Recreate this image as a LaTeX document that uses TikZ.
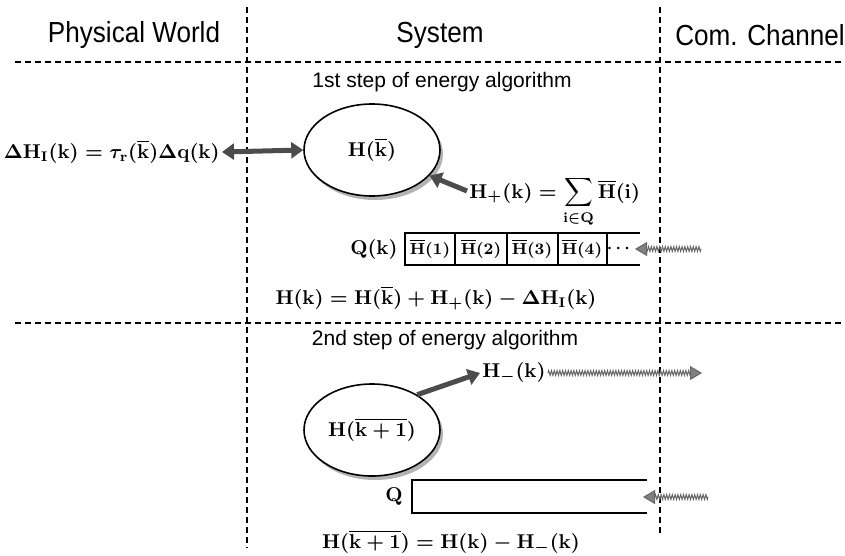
\documentclass[tikz,border=0pt]{standalone}
\usepackage{amsmath}
\usepackage{fontspec}
\setsansfont{Liberation Sans}
\newfontfamily\titlefont[FakeStretch=0.9]{Liberation Sans}
\usetikzlibrary{shapes.geometric,shadows,arrows.meta,decorations.pathmorphing}

\newcommand{\eH}{\mathbf{H}}
\newcommand{\ek}{\mathbf{k}}
\newcommand{\ekbar}{\overline{\mathbf{k}}}
\newcommand{\eHbar}{\overline{\mathbf{H}}}

\tikzstyle{every node}=[inner sep=1pt]
\tikzstyle{title}=[font={\fontsize{14.5}{16}\selectfont\titlefont}]
\tikzstyle{stage}=[font={\fontsize{10.5}{12}\selectfont\sffamily}]
\tikzstyle{eq}=[font={\fontsize{10}{12}\selectfont\boldmath}]
\tikzstyle{cell}=[font={\fontsize{8.5}{10}\selectfont\boldmath}]
\tikzstyle{sep}=[line width=0.7pt, dash pattern=on 3pt off 2pt]
\tikzstyle{queue}=[line width=0.8pt]
\tikzstyle{energy}=[ellipse, draw, line width=0.8pt, fill=white, minimum width=68pt, minimum height=46pt,
    drop shadow={shadow xshift=1.5pt, shadow yshift=-2pt, opacity=0.6}]
\tikzstyle{fat}=[draw=black!70, line width=2.5pt]
\tikzstyle{hatch}=[draw=black!60, line width=0.5pt, decorate,
    decoration={zigzag, segment length=1.4pt, amplitude=1.2pt, post length=4pt},
    -{Triangle[length=6pt,width=7pt,fill=black!50]}]

\begin{document}
\begin{tikzpicture}[x=0.5pt, y=-0.5pt]
    \useasboundingbox (0,0) rectangle (845,556);

    % column and step separators
    \draw[sep] (247,7) -- (247,548);
    \draw[sep] (660,7) -- (660,535);
    \draw[sep] (15,62) -- (845,62);
    \draw[sep] (15,323) -- (845,323);

    \node[title] (phys) at (134,35) {Physical World};
    \node[title] (sys) at (440,35) {System};
    \node[title] (com) at (760,35) {Com. Channel};

    % first step
    \node[stage] (step1) at (442,82) {1st step of energy algorithm};
    \node[eq, anchor=east] (dHI) at (222,152)
        {$\boldsymbol{\Delta}\eH_{\mathbf{I}}(\ek)=\tau_{\mathbf{r}}(\ekbar)\boldsymbol{\Delta}\mathbf{q}(\ek)$};
    \node[energy, eq] (e1) at (372,150) {$\eH(\ekbar)$};
    \draw[fat, {Triangle[length=6pt,width=8pt]}-{Triangle[length=6pt,width=8pt]}] (dHI.east) -- (e1.west);

    \node[eq, anchor=base west] (Hplus) at (467,198)
        {$\eH_{+}(\ek)=\displaystyle\sum_{\mathbf{i}\in\mathbf{Q}}\eHbar(\mathbf{i})$};
    \draw[fat, -{Triangle[length=6pt,width=8pt]}] ([yshift=3.5pt]Hplus.base west) -- (e1.-24);

    \node[eq, anchor=east] (Qk) at (400,249) {$\mathbf{Q}(\ek)$};
    \draw[queue] (640,233) -| (405,265) -- (640,265);
    \foreach \x in {455,507,558,607}
        \draw[queue] (\x,233) -- (\x,265);
    \node[cell] (c1) at (430,249) {$\eHbar(\mathbf{1})$};
    \node[cell] (c2) at (481,249) {$\eHbar(\mathbf{2})$};
    \node[cell] (c3) at (532,249) {$\eHbar(\mathbf{3})$};
    \node[cell] (c4) at (582,249) {$\eHbar(\mathbf{4})$};
    \node[cell] (c5) at (620,249) {$\cdots$};
    \coordinate (in1) at (701,249);
    \coordinate (q1end) at (635,249);
    \draw[hatch] (in1) -- (q1end);

    \node[eq] (Hk) at (436,298)
        {$\eH(\ek)=\eH(\ekbar)+\eH_{+}(\ek)-\boldsymbol{\Delta}\eH_{\mathbf{I}}(\ek)$};

    % second step
    \node[stage] (step2) at (445,340) {2nd step of energy algorithm};
    \node[energy, eq] (e2) at (372,430) {$\eH(\overline{\mathbf{k}+\mathbf{1}})$};
    \node[eq, anchor=west] (Hminus) at (480,373) {$\eH_{-}(\ek)$};
    \draw[fat, -{Triangle[length=6pt,width=8pt]}] (e2.38) -- (Hminus.west);
    \coordinate (out1) at (702,373);
    \draw[hatch] (Hminus.east) -- (out1);

    \node[eq, anchor=east] (Q) at (405,497) {$\mathbf{Q}$};
    \draw[queue] (647,480) -| (412,513) -- (647,513);
    \coordinate (in2) at (708,497);
    \coordinate (q2end) at (643,497);
    \draw[hatch] (in2) -- (q2end);

    \node[eq] (Hk1) at (451,542) {$\eH(\overline{\mathbf{k}+\mathbf{1}})=\eH(\ek)-\eH_{-}(\ek)$};
\end{tikzpicture}
\end{document}
